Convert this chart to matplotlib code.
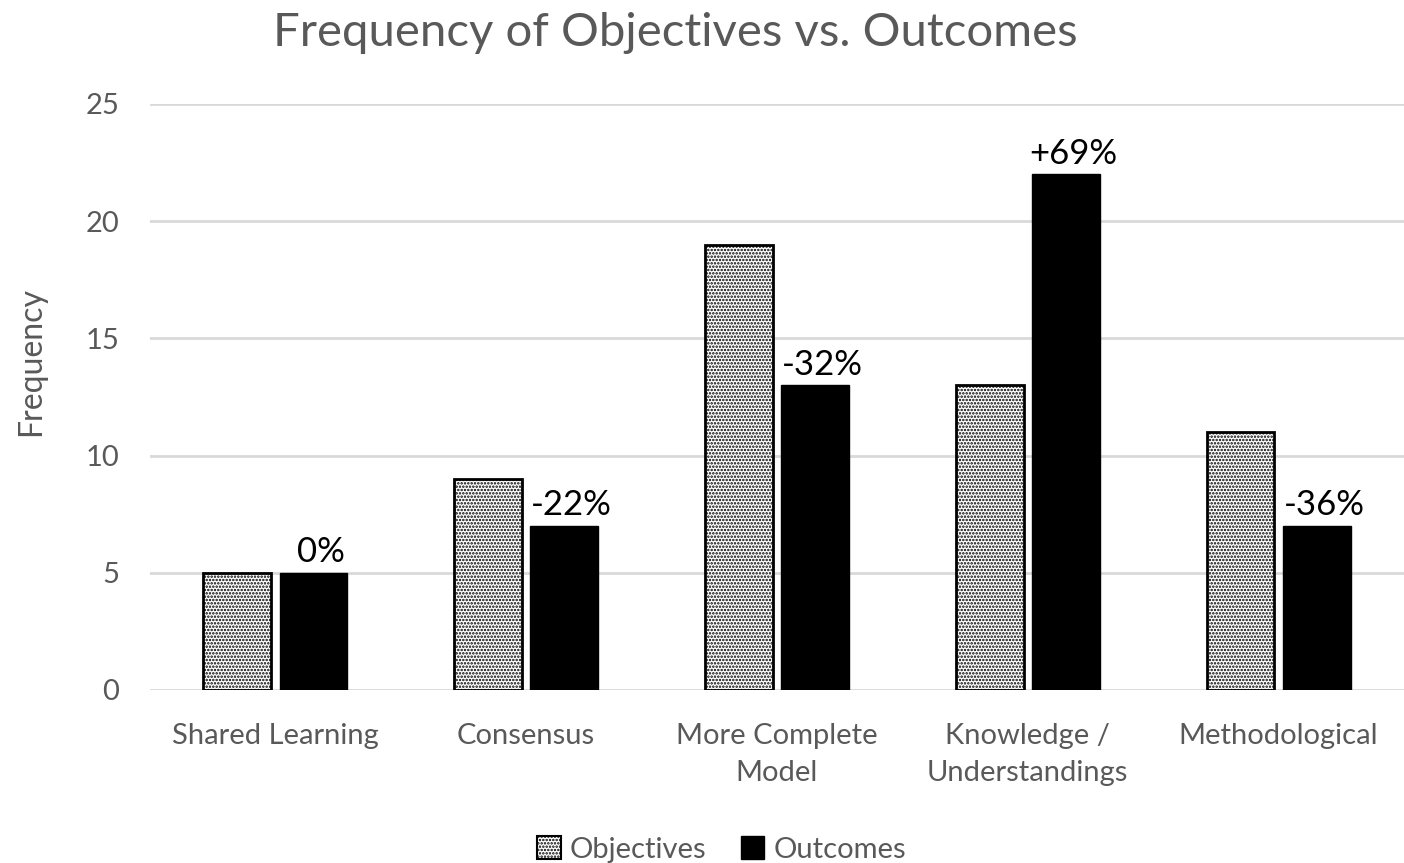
import numpy as np
import matplotlib.pyplot as plt
from matplotlib.patches import Patch

categories = ["Shared Learning", "Consensus", "More Complete\nModel",
              "Knowledge /\nUnderstandings", "Methodological"]
objectives = [5, 9, 19, 13, 11]
outcomes = [5, 7, 13, 22, 7]

plt.rcParams['font.family'] = ['Lato', 'DejaVu Sans']
plt.rcParams['hatch.linewidth'] = 1.2

GREY = '#595959'
GRID = '#d9d9d9'

fig = plt.figure(figsize=(14.04, 8.63), dpi=100)
ax = fig.add_axes([0.1068, 0.2005, 0.8932, 0.679])

x = np.arange(len(categories))
w = 0.27
off = 0.152

ax.bar(x - off, objectives, w, facecolor='white', edgecolor='black',
       linewidth=2, hatch='.....', zorder=3)
ax.bar(x + off, outcomes, w, color='black', edgecolor='black', zorder=3)

# percent change from objectives to outcomes, shown above the outcome bars
for xi, o, r in zip(x, objectives, outcomes):
    pct = round((r - o) / o * 100)
    txt = f"+{pct}%" if pct > 0 else f"{pct}%"
    ax.text(xi + off + 0.03, r + 0.2, txt, ha='center', va='bottom',
            fontsize=25, color='black')

ax.set_xlim(-0.5, len(categories) - 0.5)
ax.set_ylim(0, 25)
ax.set_yticks(range(0, 26, 5))
ax.set_xticks(x)
ax.set_xticklabels(categories, fontsize=21, color=GREY, linespacing=1.5)
ax.tick_params(axis='y', labelsize=21, labelcolor=GREY, length=0, pad=22)
ax.tick_params(axis='x', length=0, pad=24)
ax.yaxis.grid(True, color=GRID, linewidth=2, zorder=0)
for s in ax.spines.values():
    s.set_visible(False)

ax.set_ylabel("Frequency", fontsize=23, color=GREY)
ax.yaxis.set_label_coords(-0.083, 0.56)
fig.suptitle("Frequency of Objectives vs. Outcomes", fontsize=34,
             color=GREY, x=0.481, y=0.986)

handles = [Patch(facecolor='white', edgecolor='black', hatch='.....', linewidth=1.5),
           Patch(facecolor='black', edgecolor='black')]
fig.legend(handles, ["Objectives", "Outcomes"], loc='lower center',
           bbox_to_anchor=(0.514, -0.03), ncol=2, frameon=False, fontsize=21,
           handlelength=0.8, handleheight=0.8, handletextpad=0.3,
           columnspacing=1.2, labelcolor=GREY)

fig.savefig("out.png", dpi=100)
